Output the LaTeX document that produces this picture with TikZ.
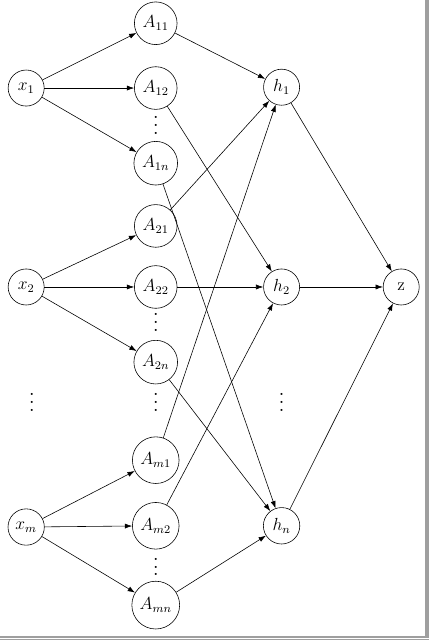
\documentclass[tikz,border=0pt]{standalone}
\usepackage{amsmath}
\usepackage{tikz}
\usetikzlibrary{arrows.meta}
\tikzset{
  neuron/.style={circle,draw,minimum size=24.7pt,inner sep=3.2pt,font=\large},
  conn/.style={-{Latex[length=5pt,width=3.5pt]}},
  vdotsnode/.style={inner sep=0pt,scale=1.35}
}

\begin{document}
\begin{tikzpicture}
  \useasboundingbox (0,0) rectangle (10.33,15.41);
  % frame of the page
  \fill[gray!75](10.234,0.05) rectangle (10.33,15.41);
  \fill[gray!75](0,0.048) rectangle (10.33,0.096);
  \fill[gray!75](0,0) rectangle (10.33,0.02);
  % inputs
  \node[neuron] (x1) at (0.63,13.29){$x_1$};
  \node[neuron] (x2) at (0.63,8.50){$x_2$};
  \node[neuron] (xm) at (0.63,2.72){$x_m$};
  \node[vdotsnode] (dx) at (0.77,5.87){$\vdots$};
  % middle layer
  \node[neuron] (A11) at (3.75,14.85){$A_{11}$};
  \node[neuron] (A12) at (3.75,13.29){$A_{12}$};
  \node[vdotsnode] (d1) at (3.75,12.54){$\vdots$};
  \node[neuron] (A1n) at (3.75,11.48){$A_{1n}$};
  \node[neuron] (A21) at (3.75,9.97){$A_{21}$};
  \node[neuron] (A22) at (3.75,8.50){$A_{22}$};
  \node[vdotsnode] (d2) at (3.75,7.78){$\vdots$};
  \node[neuron] (A2n) at (3.75,6.69){$A_{2n}$};
  \node[vdotsnode] (dA) at (3.75,5.87){$\vdots$};
  \node[neuron] (Am1) at (3.75,4.33){$A_{m1}$};
  \node[neuron] (Am2) at (3.75,2.75){$A_{m2}$};
  \node[vdotsnode] (d3) at (3.75,1.90){$\vdots$};
  \node[neuron] (Amn) at (3.75,0.84){$A_{mn}$};
  % hidden layer
  \node[neuron] (h1) at (6.78,13.31){$h_1$};
  \node[neuron] (h2) at (6.78,8.50){$h_2$};
  \node[vdotsnode] (dh) at (6.78,5.87){$\vdots$};
  \node[neuron] (hn) at (6.78,2.75){$h_n$};
  % output
  \node[neuron] (z) at (9.66,8.50){z};
  \foreach \i in {1,2,m}{
    \foreach \j in {1,2,n}{
      \draw[conn](x\i)--(A\i\j);
      \draw[conn](A\i\j)--(h\j);
    }
  }
  \foreach \j in {1,2,n}
    \draw[conn](h\j)--(z);
\end{tikzpicture}
\end{document}
